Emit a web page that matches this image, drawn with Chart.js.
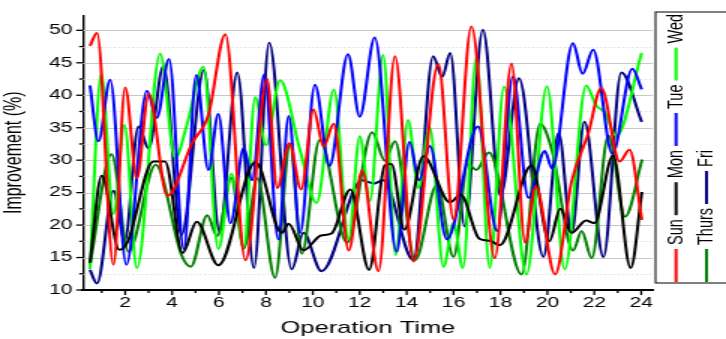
<!DOCTYPE html>
<html>
<head>
<meta charset="utf-8">
<script src="https://cdn.jsdelivr.net/npm/chart.js@4.4.1/dist/chart.umd.min.js"></script>
<style>
  html, body { margin: 0; padding: 0; background: #fff; overflow: hidden; }
  canvas { display: block; }
</style>
</head>
<body>
<!-- drawn narrow and stretched sideways, like the original export -->
<canvas id="chart" width="484" height="339" style="width:726px;height:339px"></canvas>
<script>
const seriesNames = ['Sun', 'Mon', 'Tue', 'Wed', 'Thurs', 'Fri'];
const seriesColors = ['#ff0000', '#000000', '#0000ff', '#00ff00', '#008000', '#000080'];

const sunTime = [0.5, 0.8, 1.5, 2.0, 2.5, 3.0, 3.8, 4.85, 5.55, 6.27, 7.13, 8.05, 8.48, 9.0, 9.5, 10.03, 10.46, 10.89, 11.53, 12.1, 12.8, 13.5, 14.29, 15.35, 16.0, 16.76, 17.76, 18.47, 19.05, 19.5, 20.33, 21.03, 21.74, 22.3, 23.08, 23.5, 24.03];
const sunVal = [47.6, 49.6, 13.9, 41.2, 27.2, 40.2, 24.5, 32.6, 37.0, 49.4, 14.6, 42.5, 25.7, 32.6, 25.5, 37.8, 32.1, 35.6, 16.1, 28.4, 12.9, 46.0, 14.4, 44.8, 20.8, 50.6, 14.9, 44.9, 17.3, 26.0, 12.4, 26.7, 34.1, 41.1, 29.8, 31.6, 20.8];

const monTime = [0.5, 1.0, 1.75, 2.1, 3.2, 3.7, 4.45, 5.05, 5.97, 7.56, 8.67, 8.97, 9.6, 10.35, 10.8, 11.6, 12.4, 13.07, 13.35, 13.9, 14.71, 15.85, 16.3, 17.1, 17.55, 17.97, 19.33, 20.08, 20.55, 21.02, 21.65, 22.0, 22.8, 23.55, 24.03];
const monVal = [14.2, 27.6, 16.2, 17.4, 29.8, 29.8, 15.7, 20.5, 13.8, 29.7, 18.8, 20.2, 16.1, 18.4, 18.7, 25.5, 13.1, 29.2, 29.4, 19.3, 30.6, 23.5, 24.7, 17.9, 17.6, 16.9, 29.2, 17.5, 22.5, 18.8, 20.7, 20.3, 30.7, 13.4, 25.1];

const tueTime = [0.5, 0.86, 1.36, 2.05, 2.93, 3.35, 3.87, 4.5, 5.03, 5.55, 5.97, 6.49, 7.06, 7.41, 7.93, 8.53, 8.97, 9.46, 10.09, 10.71, 11.5, 12.0, 12.64, 13.57, 14.12, 14.53, 14.99, 15.71, 17.04, 17.86, 18.53, 19.19, 19.89, 20.2, 21.09, 21.5, 21.95, 22.77, 23.62, 24.02];
const tueVal = [41.5, 32.9, 42.4, 13.9, 40.7, 36.5, 45.6, 16.3, 43.1, 28.5, 37.1, 20.3, 31.9, 26.9, 43.2, 17.8, 36.8, 18.8, 41.6, 29.1, 46.3, 36.7, 48.9, 15.9, 32.8, 26.9, 32.2, 17.8, 35.2, 19.1, 42.9, 24.2, 31.4, 28.7, 48.0, 43.3, 47.0, 31.0, 44.1, 40.9];

const wedTime = [0.5, 0.98, 1.5, 1.97, 2.5, 3.49, 4.13, 4.63, 5.34, 5.97, 6.54, 7.06, 7.54, 8.0, 8.6, 9.45, 10.16, 10.9, 11.53, 12.0, 12.43, 13.0, 13.53, 14.06, 14.5, 14.98, 15.57, 16.0, 16.4, 16.97, 17.54, 18.15, 19.11, 19.98, 20.74, 21.65, 22.08, 22.44, 22.93, 24.02];
const wedVal = [13.2, 43.3, 21.7, 35.4, 13.4, 46.4, 30.3, 35.4, 44.4, 16.3, 27.9, 16.6, 39.7, 32.3, 42.3, 31.6, 23.4, 40.9, 17.8, 33.7, 23.7, 46.2, 15.4, 36.2, 25.7, 35.1, 13.6, 20.3, 13.4, 45.8, 13.4, 41.3, 12.4, 41.4, 13.2, 41.5, 38.4, 37.4, 33.7, 46.5];

const thursTime = [0.5, 1.42, 2.14, 3.3, 4.4, 4.8, 5.5, 5.92, 6.52, 7.06, 7.63, 8.39, 9.03, 9.53, 10.29, 11.46, 12.53, 13.07, 13.5, 14.36, 15.29, 16.0, 16.61, 16.97, 17.51, 18.9, 19.69, 20.19, 21.1, 21.46, 21.89, 22.6, 23.31, 24.04];
const thursVal = [13.9, 30.9, 15.9, 29.3, 15.4, 13.6, 21.5, 18.3, 27.3, 16.4, 27.2, 11.9, 32.4, 15.6, 33.1, 17.3, 34.3, 29.9, 32.9, 14.6, 26.2, 15.1, 29.4, 28.5, 31.2, 12.4, 35.6, 31.6, 16.1, 19.1, 14.9, 33.8, 21.3, 30.1];

const friTime = [0.5, 0.8, 1.5, 1.98, 2.57, 3.0, 3.63, 4.4, 5.36, 6.02, 6.78, 7.49, 8.14, 9.1, 9.6, 10.37, 12.1, 12.6, 13.0, 14.29, 15.13, 15.51, 15.86, 16.47, 17.25, 18.0, 18.79, 19.83, 20.48, 21.03, 21.58, 22.39, 23.15, 24.02];
const friVal = [13.1, 11.0, 25.3, 17.6, 35.2, 31.8, 44.5, 18.5, 43.9, 19.0, 43.5, 13.4, 48.1, 13.2, 18.8, 12.9, 26.9, 26.4, 26.9, 14.6, 46.0, 42.8, 46.5, 19.8, 50.1, 24.5, 42.6, 15.1, 34.2, 18.8, 35.9, 15.1, 43.5, 35.9];

const xTicks = [2, 4, 6, 8, 10, 12, 14, 16, 18, 20, 22, 24];
const xMinorTicks = [1, 3, 5, 7, 9, 11, 13, 15, 17, 19, 21, 23];
const yTicks = [10, 15, 20, 25, 30, 35, 40, 45, 50];
const yMinorTicks = [12.5, 17.5, 22.5, 27.5, 32.5, 37.5, 42.5, 47.5];

const allTimes = [sunTime, monTime, tueTime, wedTime, thursTime, friTime];
const allVals = [sunVal, monVal, tueVal, wedVal, thursVal, friVal];

const FONT = "'Liberation Sans', Arial, sans-serif";
Chart.defaults.font.family = FONT;
Chart.defaults.color = '#000';

function toPoints(times, vals) {
    return times.map((t, i) => ({ x: t, y: vals[i] }));
}

function strokeLine(ctx, x1, y1, x2, y2) {
    ctx.beginPath();
    ctx.moveTo(x1, y1);
    ctx.lineTo(x2, y2);
    ctx.stroke();
}

// grid lines, tick marks and the rotated legend box on the right
const decor = {
    id: 'decor',
    beforeDatasetsDraw(chart) {
        const { ctx, chartArea: a, scales: { y } } = chart;
        ctx.save();
        ctx.lineWidth = 1;
        ctx.strokeStyle = '#c8c8c8';
        yTicks.slice(1).forEach(v => {
            const py = Math.round(y.getPixelForValue(v)) + 0.5;
            strokeLine(ctx, a.left, py, a.right, py);
        });
        ctx.setLineDash([1, 2]);
        ctx.strokeStyle = '#d4d4d4';
        yMinorTicks.forEach(v => {
            const py = Math.round(y.getPixelForValue(v)) + 0.5;
            strokeLine(ctx, a.left, py, a.right, py);
        });
        ctx.restore();
    },
    afterDraw(chart) {
        const { ctx, chartArea: a, scales: { x, y } } = chart;
        ctx.save();
        ctx.strokeStyle = '#000';
        ctx.lineWidth = 1.3;
        yTicks.forEach(v => strokeLine(ctx, a.left - 4.5, y.getPixelForValue(v), a.left, y.getPixelForValue(v)));
        yMinorTicks.forEach(v => strokeLine(ctx, a.left - 2.5, y.getPixelForValue(v), a.left, y.getPixelForValue(v)));
        xTicks.forEach(v => strokeLine(ctx, x.getPixelForValue(v), a.bottom, x.getPixelForValue(v), a.bottom + 5));
        xMinorTicks.forEach(v => strokeLine(ctx, x.getPixelForValue(v), a.bottom, x.getPixelForValue(v), a.bottom + 3));

        // legend
        ctx.lineWidth = 1;
        ctx.strokeRect(437, 12, 60, 271);
        ctx.font = '14.5px ' + FONT;
        ctx.fillStyle = '#000';
        ctx.textBaseline = 'middle';
        ctx.textAlign = 'left';
        const columns = [[0, 1, 2, 3], [4, 5]];
        const colX = [450.7, 471];
        columns.forEach((items, c) => {
            let py = 282;
            items.forEach(i => {
                const ds = chart.data.datasets[i];
                ctx.strokeStyle = ds.borderColor;
                ctx.lineWidth = 2;
                strokeLine(ctx, colX[c], py, colX[c], py - 33);
                py -= 37;
                ctx.save();
                ctx.translate(colX[c], py);
                ctx.rotate(-Math.PI / 2);
                ctx.fillText(ds.label, 0, 0);
                ctx.restore();
                py -= ctx.measureText(ds.label).width + 4;
            });
        });
        ctx.restore();
    }
};

new Chart(document.getElementById('chart'), {
    type: 'line',
    data: {
        datasets: seriesNames.map((name, i) => ({
            label: name,
            data: toPoints(allTimes[i], allVals[i]),
            borderColor: seriesColors[i],
            borderWidth: 2,
            pointRadius: 0,
            fill: false,
            cubicInterpolationMode: 'monotone'
        }))
    },
    options: {
        responsive: false,
        animation: false,
        layout: { padding: { top: 2, right: 48.7, left: 0, bottom: 0 } },
        plugins: { legend: { display: false }, tooltip: { enabled: false } },
        scales: {
            x: {
                type: 'linear',
                min: 0.2,
                max: 24.5,
                afterBuildTicks: s => { s.ticks = xTicks.map(v => ({ value: v })); },
                afterFit: s => { s.height = 49; },
                ticks: { autoSkip: false, maxRotation: 0, padding: 5, font: { size: 14 } },
                grid: { drawOnChartArea: false, drawTicks: false },
                border: { color: '#000', width: 2 },
                title: { display: true, text: 'Operation Time', font: { size: 17 }, padding: { top: 0, bottom: 0 } }
            },
            y: {
                min: 10,
                max: 52.3,
                afterBuildTicks: s => { s.ticks = yTicks.map(v => ({ value: v })); },
                afterFit: s => { s.width = 55.3; },
                ticks: { padding: 7, font: { size: 14 } },
                grid: { drawOnChartArea: false, drawTicks: false },
                border: { color: '#000', width: 1.4 },
                title: { display: true, text: 'Improvement (%)', font: { size: 16 }, padding: { top: 0, bottom: 0 } }
            }
        }
    },
    plugins: [decor]
});
</script>
</body>
</html>
